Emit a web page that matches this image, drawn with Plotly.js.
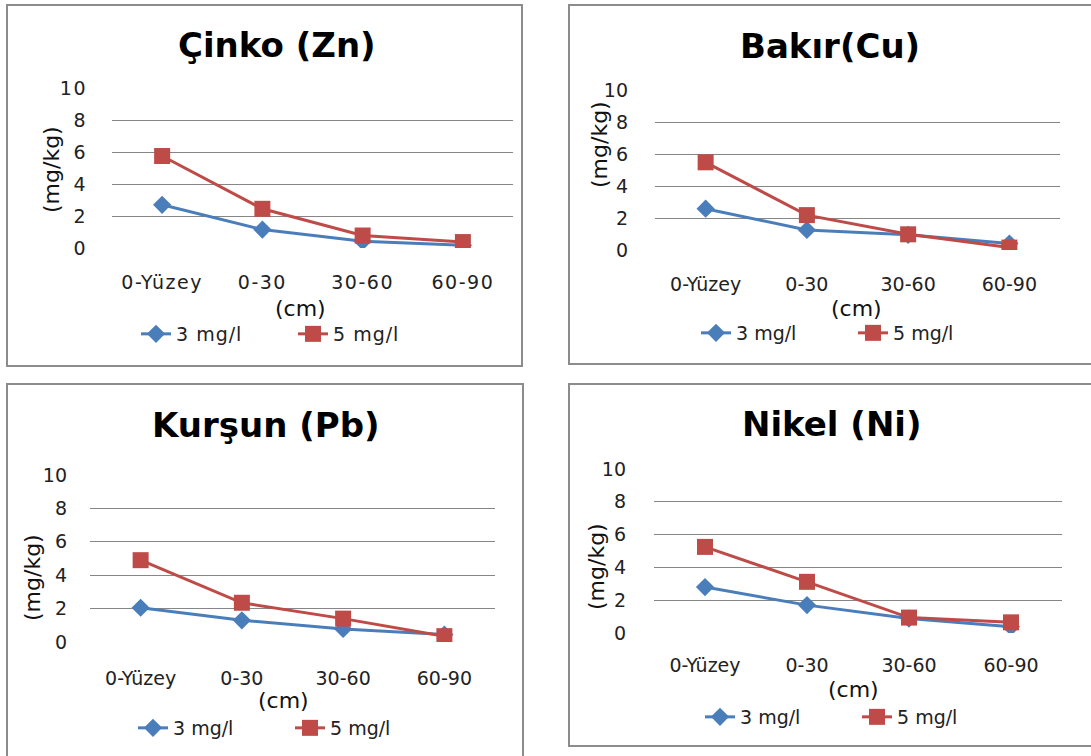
<!DOCTYPE html>
<html>
<head>
<meta charset="utf-8">
<script src="https://cdn.plot.ly/plotly-3.0.1.min.js"></script>
<style>
html,body{margin:0;padding:0;background:#fff;}
#chart{width:1091px;height:756px;}
#chart .xtick text, #chart .ytick text { letter-spacing: 1.5px; }
#chart .legendtext { letter-spacing: 1px; }
</style>
</head>
<body>
<div id="chart"></div>
<script>
// ---- data ----
const categories = ['0-Yüzey', '0-30', '30-60', '60-90'];
const seriesNames = ['3 mg/l', '5 mg/l'];
const titles = ['Çinko (Zn)', 'Bakır(Cu)', 'Kurşun (Pb)', 'Nikel (Ni)'];
const zn3 = [2.7, 1.15, 0.42, 0.17];
const zn5 = [5.75, 2.45, 0.78, 0.37];
const cu3 = [2.58, 1.25, 0.95, 0.4];
const cu5 = [5.48, 2.18, 0.98, 0.15];
const pb3 = [2.05, 1.3, 0.78, 0.45];
const pb5 = [4.9, 2.35, 1.4, 0.35];
const ni3 = [2.8, 1.7, 0.88, 0.38];
const ni5 = [5.25, 3.12, 0.94, 0.65];
const yTicks = [0, 2, 4, 6, 8, 10];
const yTitle = '(mg/kg)';
const xTitle = '(cm)';

// ---- layout (pixel geometry) ----
const W = 1091, H = 756;
const px = x => x / W;
const py = y => 1 - y / H;

const panels = [
  {s3: zn3, s5: zn5, plot: [112, 513, 88, 248], box: [7, 522, 5, 366], title: [277, 45],
   ytitle: [51, 170], xtitle: [300, 308], legend: [136, 334], xstand: 21, ystand: 24},
  {s3: cu3, s5: cu5, plot: [655, 1060, 90, 250], box: [569, 1100, 5, 364], title: [830, 46],
   ytitle: [599, 145], xtitle: [856, 308], legend: [696, 333], xstand: 21, ystand: 26},
  {s3: pb3, s5: pb5, plot: [90, 495, 475, 642], box: [7, 523, 384, 770], title: [266, 425],
   ytitle: [32, 578], xtitle: [283, 700], legend: [133, 728], xstand: 23, ystand: 22},
  {s3: ni3, s5: ni5, plot: [654, 1062, 469, 633], box: [569, 1100, 384, 746], title: [832, 424],
   ytitle: [596, 567], xtitle: [853, 689], legend: [700, 717], xstand: 19, ystand: 27}
];

const blue = '#4A7EBB', red = '#BE4B48';
const tickFont = {family: 'DejaVu Sans', size: 19, color: '#222222'};
const data = [];
const layout = {
  width: W, height: H, margin: {l: 0, r: 0, t: 0, b: 0},
  paper_bgcolor: '#ffffff', plot_bgcolor: 'rgba(0,0,0,0)',
  shapes: [], annotations: [], showlegend: true
};

panels.forEach((p, i) => {
  const n = i === 0 ? '' : String(i + 1);
  const xa = 'x' + n, ya = 'y' + n, lg = 'legend' + n;
  data.push({
    type: 'scatter', mode: 'lines+markers', x: categories, y: p.s3, name: seriesNames[0],
    xaxis: xa, yaxis: ya, legend: lg,
    line: {color: blue, width: 3}, marker: {symbol: 'diamond', size: 14, color: blue}
  });
  data.push({
    type: 'scatter', mode: 'lines+markers', x: categories, y: p.s5, name: seriesNames[1],
    xaxis: xa, yaxis: ya, legend: lg,
    line: {color: red, width: 3}, marker: {symbol: 'square', size: 16, color: red}
  });
  layout['xaxis' + n] = {
    domain: [px(p.plot[0]), px(p.plot[1])], anchor: ya, type: 'category',
    range: [-0.5, categories.length - 0.5], showgrid: false, zeroline: false, showline: false,
    ticks: '', tickfont: tickFont, ticklabelstandoff: p.xstand, fixedrange: true
  };
  layout['yaxis' + n] = {
    domain: [py(p.plot[3]), py(p.plot[2])], anchor: xa, range: [0, 10],
    tickvals: yTicks, showgrid: true, gridcolor: '#868686', gridwidth: 1,
    zeroline: false, showline: false, ticks: '', tickfont: tickFont,
    ticklabelstandoff: p.ystand, fixedrange: true
  };
  layout[lg] = {
    orientation: 'h', x: px(p.legend[0]), y: py(p.legend[1]), xanchor: 'left', yanchor: 'middle',
    bgcolor: 'rgba(0,0,0,0)', borderwidth: 0, entrywidth: 112, entrywidthmode: 'pixels',
    font: {family: 'DejaVu Sans', size: 19, color: '#222222'}
  };
  layout.shapes.push({
    type: 'rect', xref: 'paper', yref: 'paper',
    x0: px(p.box[0]), x1: px(p.box[1]), y0: py(p.box[3]), y1: py(p.box[2]),
    line: {color: '#8C8C8C', width: 2}, fillcolor: 'rgba(0,0,0,0)', layer: 'below'
  });
  layout.annotations.push({
    text: '<b>' + titles[i] + '</b>', xref: 'paper', yref: 'paper',
    x: px(p.title[0]), y: py(p.title[1]), xanchor: 'center', yanchor: 'middle', showarrow: false,
    font: {family: 'DejaVu Sans', size: 34, color: '#000000'}
  });
  layout.annotations.push({
    text: yTitle, xref: 'paper', yref: 'paper', textangle: -90,
    x: px(p.ytitle[0]), y: py(p.ytitle[1]), xanchor: 'center', yanchor: 'middle', showarrow: false,
    font: {family: 'DejaVu Sans', size: 22, color: '#111111'}
  });
  layout.annotations.push({
    text: xTitle, xref: 'paper', yref: 'paper',
    x: px(p.xtitle[0]), y: py(p.xtitle[1]), xanchor: 'center', yanchor: 'middle', showarrow: false,
    font: {family: 'DejaVu Sans', size: 22, color: '#111111'}
  });
});

Plotly.newPlot('chart', data, layout, {displayModeBar: false, staticPlot: true});
</script>
</body>
</html>
